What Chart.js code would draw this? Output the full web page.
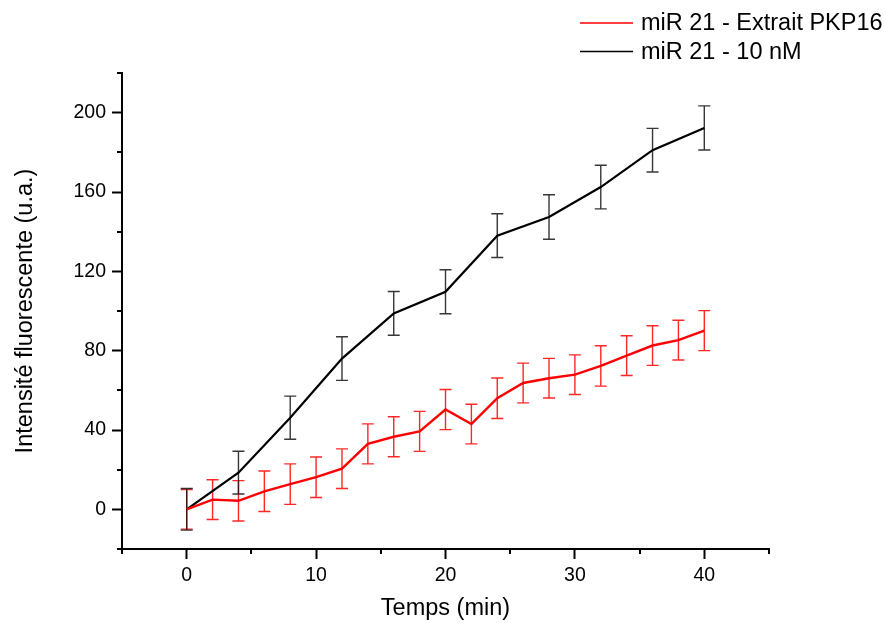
<!DOCTYPE html>
<html>
<head>
<meta charset="utf-8">
<script src="https://cdn.jsdelivr.net/npm/chart.js@4"></script>
<style>
html,body{margin:0;padding:0;background:#fff;}
#wrap{width:886px;height:623px;}
</style>
</head>
<body>
<div id="wrap"><canvas id="c" width="886" height="623"></canvas></div>
<script>
// ---- data ----
const redTimes = [0,2,4,6,8,10,12,14,16,18,20,22,24,26,28,30,32,34,36,38,40];
const redValues = [0,4.9,4.3,9.1,12.7,16.2,20.5,33.0,36.6,39.3,50.3,43.0,56.0,63.7,66.1,67.9,72.3,77.5,82.6,85.3,90.1];
const redErrors = [10,10,10.2,10.2,10.2,10.2,10,10.1,10.1,10.1,10.1,10,10.2,10,10,10,10.2,10,10,10,10.1];
const blackTimes = [0,4,8,12,16,20,24,28,32,36,40];
const blackValues = [0,18.5,46.2,76.0,98.8,109.7,138.0,147.4,162.5,181.1,192.3];
const blackErrors = [10.5,10.8,10.9,11,11,11.1,11,11.2,11,11,11.1];
const seriesLabels = ['miR 21 - Extrait PKP16','miR 21 - 10 nM'];
const xTitle = 'Temps (min)';
const yTitle = 'Intensité fluorescente (u.a.)';

const FONT = "'Liberation Sans', Arial, sans-serif";

const toPts = (xs, ys) => xs.map((x,i)=>({x:x, y:ys[i]}));

const errorBarPlugin = {
  id:'errorBars',
  beforeDatasetsDraw(chart){
    const ctx = chart.ctx, xs = chart.scales.x, ys = chart.scales.y;
    chart.data.datasets.forEach((ds,di)=>{
      const errs = ds.errors; if(!errs) return;
      ctx.save();
      ctx.strokeStyle = ds.errorColor;
      ctx.lineWidth = 1.4;
      ds.data.forEach((p,i)=>{
        const px = xs.getPixelForValue(p.x);
        const top = ys.getPixelForValue(p.y + errs[i]);
        const bot = ys.getPixelForValue(p.y - errs[i]);
        ctx.beginPath();
        ctx.moveTo(px, top); ctx.lineTo(px, bot);
        ctx.moveTo(px-6, top); ctx.lineTo(px+6, top);
        ctx.moveTo(px-6, bot); ctx.lineTo(px+6, bot);
        ctx.stroke();
      });
      ctx.restore();
    });
  }
};

const minorTickPlugin = {
  id:'minorTicks',
  afterDraw(chart){
    const ctx = chart.ctx, xs = chart.scales.x, ys = chart.scales.y;
    ctx.save();
    ctx.strokeStyle = '#000';
    ctx.lineWidth = 2;
    xs.ticks.forEach(t=>{
      if (t.value % 10 !== 0) {
        const px = Math.round(xs.getPixelForValue(t.value));
        ctx.beginPath(); ctx.moveTo(px, xs.top); ctx.lineTo(px, xs.top+5); ctx.stroke();
      }
    });
    ys.ticks.forEach(t=>{
      if (t.value % 40 !== 0) {
        const py = Math.round(ys.getPixelForValue(t.value));
        ctx.beginPath(); ctx.moveTo(ys.right, py); ctx.lineTo(ys.right-5, py); ctx.stroke();
      }
    });
    ctx.restore();
  }
};

const legendPlugin = {
  id:'customLegend',
  afterDraw(chart){
    const ctx = chart.ctx;
    ctx.save();
    ctx.font = "23.5px " + FONT;
    ctx.textBaseline = 'middle';
    ctx.textAlign = 'left';
    chart.data.datasets.forEach((ds,i)=>{
      const y = 23 + i*28.5;
      ctx.strokeStyle = ds.borderColor;
      ctx.lineWidth = 1.5;
      ctx.beginPath(); ctx.moveTo(580, y); ctx.lineTo(633, y); ctx.stroke();
      ctx.fillStyle = '#000';
      ctx.fillText(ds.label, 641, y+1);
    });
    ctx.restore();
  }
};

new Chart(document.getElementById('c'), {
  type:'line',
  data:{
    datasets:[
      {label:seriesLabels[0], data:toPts(redTimes, redValues), errors:redErrors,
       borderColor:'#ff0000', errorColor:'rgba(255,0,0,0.85)', borderWidth:2.4, pointRadius:0, tension:0, fill:false},
      {label:seriesLabels[1], data:toPts(blackTimes, blackValues), errors:blackErrors,
       borderColor:'#000000', errorColor:'rgba(20,20,20,0.85)', borderWidth:2.2, pointRadius:0, tension:0, fill:false}
    ]
  },
  options:{
    responsive:false,
    animation:false,
    layout:{padding:{top:73,right:117,left:0,bottom:0}},
    plugins:{legend:{display:false}, tooltip:{enabled:false}},
    scales:{
      x:{
        type:'linear', min:-5, max:45,
        afterFit(s){ s.height = 74; },
        ticks:{stepSize:5, padding:5, color:'#000', font:{family:FONT, size:19.5},
               callback:(v)=> (v % 10 === 0 ? String(v) : '')},
        grid:{drawOnChartArea:false, drawTicks:true, tickLength:10, tickWidth:2,
              tickColor:(c)=> (c.tick && c.tick.value % 10 === 0 ? '#000' : 'rgba(0,0,0,0)')},
        border:{display:true, color:'#000', width:2},
        title:{display:true, text:xTitle, color:'#000', font:{family:FONT, size:23.5}, padding:{top:0,bottom:0}}
      },
      y:{
        type:'linear', min:-20, max:220,
        afterFit(s){ s.width = 122; },
        ticks:{stepSize:20, padding:6, color:'#000', font:{family:FONT, size:19.5},
               callback:(v)=> (v % 40 === 0 ? String(v) : '')},
        grid:{drawOnChartArea:false, drawTicks:true, tickLength:10, tickWidth:2,
              tickColor:(c)=> (c.tick && c.tick.value % 40 === 0 ? '#000' : 'rgba(0,0,0,0)')},
        border:{display:true, color:'#000', width:2},
        title:{display:true, text:yTitle, color:'#000', font:{family:FONT, size:23.5}, padding:{top:11,bottom:0}}
      }
    }
  },
  plugins:[errorBarPlugin, minorTickPlugin, legendPlugin]
});
</script>
</body>
</html>
